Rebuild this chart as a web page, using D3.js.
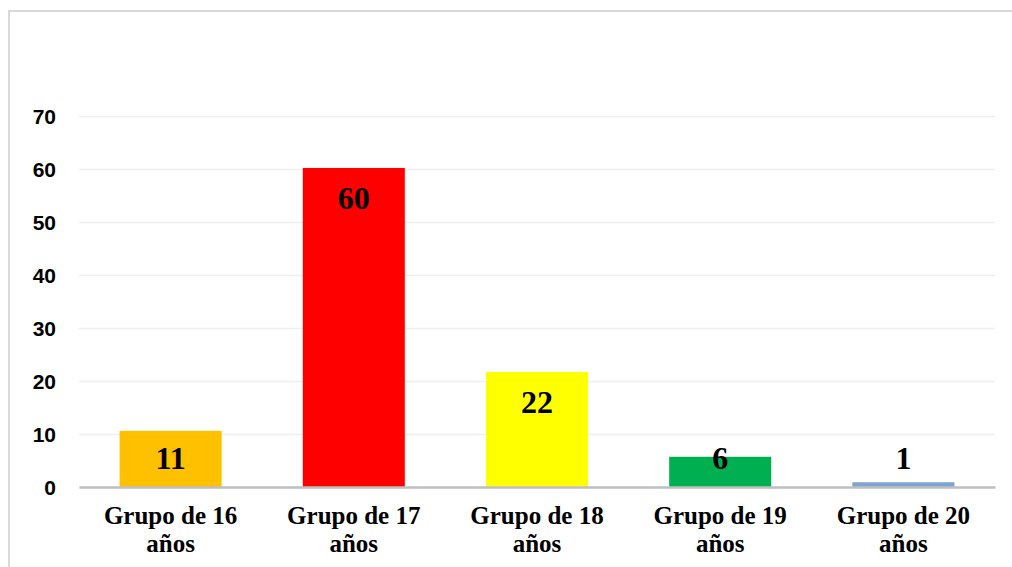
<!DOCTYPE html>
<html>
<head>
<meta charset="utf-8">
<script src="https://cdn.jsdelivr.net/npm/d3@7"></script>
<style>
  html, body { margin: 0; padding: 0; background: #ffffff; }
  svg { display: block; }
</style>
</head>
<body>
<svg id="chart" width="1012" height="567"></svg>
<script>
const categories = ["Grupo de 16 años", "Grupo de 17 años", "Grupo de 18 años", "Grupo de 19 años", "Grupo de 20 años"];
const categoryLines = [["Grupo de 16", "años"], ["Grupo de 17", "años"], ["Grupo de 18", "años"], ["Grupo de 19", "años"], ["Grupo de 20", "años"]];
const values = [10.6, 60.2, 21.7, 5.7, 0.9];
const valueLabels = ["11", "60", "22", "6", "1"];
const barColors = ["#FFC000", "#FF0000", "#FFFF00", "#00B050", "#7EA3D4"];
const yTicks = [0, 10, 20, 30, 40, 50, 60, 70];

const svg = d3.select("#chart");
const W = 1012, H = 567;
const plot = { left: 79, right: 995, top: 116, bottom: 487 };

// outer frame
svg.append("rect")
  .attr("x", 9).attr("y", 11)
  .attr("width", W + 20).attr("height", H + 20)
  .attr("fill", "#ffffff")
  .attr("stroke", "#d9d9d9").attr("stroke-width", 2);

const x = d3.scaleBand()
  .domain(categories)
  .range([plot.left, plot.right])
  .paddingInner(0.443)
  .paddingOuter(0.2215);

const y = d3.scaleLinear()
  .domain([0, 70])
  .range([plot.bottom, plot.top]);

// gridlines
const yAxis = d3.axisLeft(y)
  .tickValues(yTicks)
  .tickSize(-(plot.right - plot.left))
  .tickPadding(23)
  .tickFormat(d3.format("d"));

const gy = svg.append("g")
  .attr("transform", `translate(${plot.left},0)`)
  .call(yAxis);
gy.select(".domain").remove();
gy.selectAll(".tick line")
  .attr("stroke", "#efefef")
  .attr("stroke-width", 1.5);
gy.selectAll(".tick text")
  .attr("font-family", "'Liberation Sans', Arial, sans-serif")
  .attr("font-weight", "bold")
  .attr("font-size", 21)
  .attr("fill", "#000000")
  .attr("dy", "0.35em");

// bars
svg.append("g").selectAll("rect")
  .data(values)
  .join("rect")
  .attr("x", (d, i) => x(categories[i]))
  .attr("y", d => y(d))
  .attr("width", x.bandwidth())
  .attr("height", d => y(0) - y(d))
  .attr("fill", (d, i) => barColors[i]);

// x axis line
const xAxis = d3.axisBottom(x).tickSize(0).tickFormat("");
const gx = svg.append("g")
  .attr("transform", `translate(0,${plot.bottom})`)
  .call(xAxis);
gx.select(".domain")
  .attr("stroke", "#bfbfbf")
  .attr("stroke-width", 2.5);

// value labels
svg.append("g").selectAll("text")
  .data(values)
  .join("text")
  .attr("x", (d, i) => x(categories[i]) + x.bandwidth() / 2)
  .attr("y", d => Math.min(y(d) + 41, y(0) - 18))
  .attr("text-anchor", "middle")
  .attr("font-family", "'Liberation Serif', 'Times New Roman', serif")
  .attr("font-weight", "bold")
  .attr("font-size", 32)
  .attr("fill", "#000000")
  .text((d, i) => valueLabels[i]);

// category labels
const cl = svg.append("g").selectAll("text")
  .data(categories)
  .join("text")
  .attr("x", d => x(d) + x.bandwidth() / 2)
  .attr("y", 524)
  .attr("text-anchor", "middle")
  .attr("font-family", "'Liberation Serif', 'Times New Roman', serif")
  .attr("font-weight", "bold")
  .attr("font-size", 25)
  .attr("fill", "#000000");
cl.each(function(d, i) {
  const t = d3.select(this);
  categoryLines[i].forEach((line, k) => {
    t.append("tspan")
      .attr("x", x(d) + x.bandwidth() / 2)
      .attr("dy", k === 0 ? 0 : 28)
      .text(line);
  });
});
</script>
</body>
</html>
